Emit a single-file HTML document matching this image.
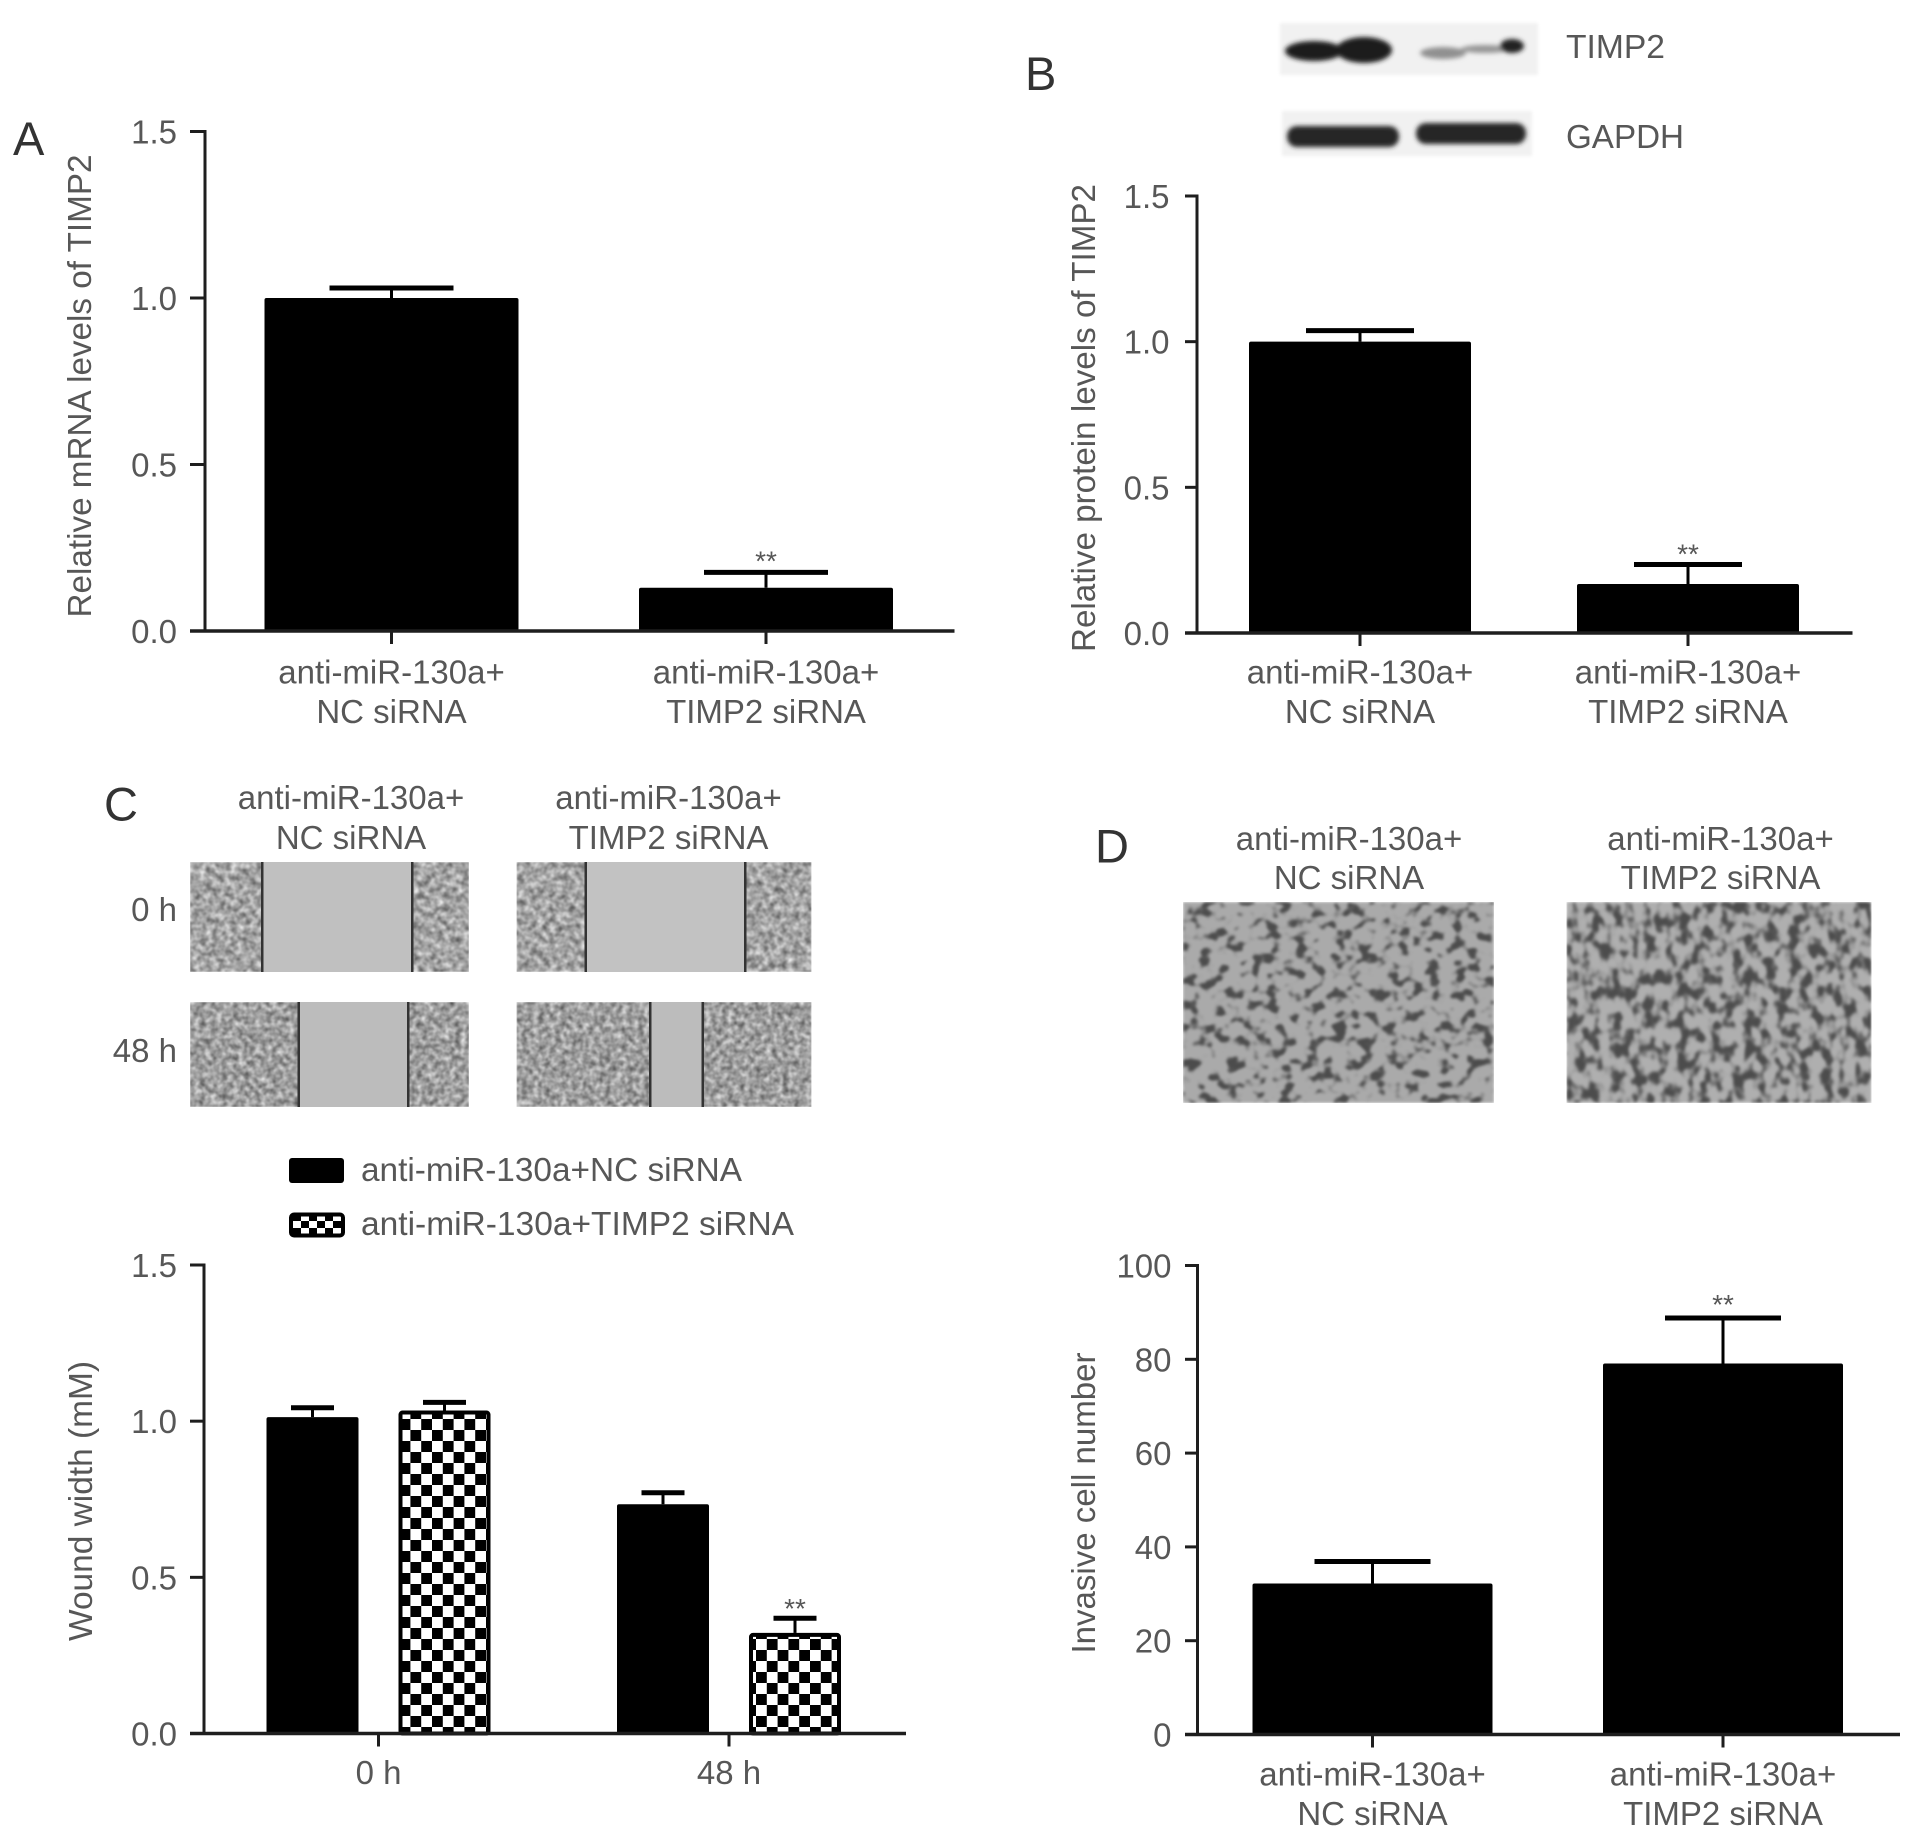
<!DOCTYPE html>
<html lang="en">
<head>
<meta charset="utf-8">
<title>TIMP2 knockdown figure</title>
<style>
html,body{margin:0;padding:0;background:#fff;}
svg{display:block;}
text{font-family:"Liberation Sans",sans-serif;fill:#575757;}
.lab{font-size:33px;}
.letter{font-size:47px;fill:#333;}
</style>
</head>
<body>
<svg id="figure" xmlns="http://www.w3.org/2000/svg" width="1913" height="1838" viewBox="0 0 1913 1838">
  <defs>
    <pattern id="checker" patternUnits="userSpaceOnUse" width="21.6" height="22">
      <rect width="21.6" height="22" fill="#fff"/>
      <rect width="10.8" height="11" fill="#000"/>
      <rect x="10.8" y="11" width="10.8" height="11" fill="#000"/>
    </pattern>
    <pattern id="checker-small" patternUnits="userSpaceOnUse" width="16" height="14" x="293" y="1214">
      <rect width="16" height="14" fill="#fff"/>
      <rect width="8" height="7" fill="#000"/>
      <rect x="8" y="7" width="8" height="7" fill="#000"/>
    </pattern>
    <filter id="soft" x="-20%" y="-40%" width="140%" height="180%"><feGaussianBlur stdDeviation="2.4"/></filter>
    <filter id="soft-box" x="-5%" y="-10%" width="110%" height="120%"><feGaussianBlur stdDeviation="1.5"/></filter>
    <filter id="cells" x="0" y="0" width="100%" height="100%" color-interpolation-filters="sRGB">
      <feTurbulence type="fractalNoise" baseFrequency="0.16" numOctaves="2" seed="7"/>
      <feColorMatrix values="0.8 0 0 0 0.24  0.8 0 0 0 0.24  0.8 0 0 0 0.24  0 0 0 0 1"/>
      <feGaussianBlur stdDeviation="0.9"/>
    </filter>
    <filter id="cells-dense" x="0" y="0" width="100%" height="100%" color-interpolation-filters="sRGB">
      <feTurbulence type="fractalNoise" baseFrequency="0.18" numOctaves="2" seed="19"/>
      <feColorMatrix values="0.8 0 0 0 0.22  0.8 0 0 0 0.22  0.8 0 0 0 0.22  0 0 0 0 1"/>
      <feGaussianBlur stdDeviation="0.9"/>
    </filter>
    <filter id="invasion-sparse" x="0" y="0" width="100%" height="100%" color-interpolation-filters="sRGB">
      <feTurbulence type="fractalNoise" baseFrequency="0.075 0.085" numOctaves="2" seed="11"/>
      <feColorMatrix values="2.5 0 0 0 -0.75  2.5 0 0 0 -0.75  2.5 0 0 0 -0.75  0 0 0 0 1"/>
      <feComponentTransfer>
        <feFuncR type="table" tableValues="0.3 0.33 0.52 0.64 0.67 0.67 0.67 0.67"/>
        <feFuncG type="table" tableValues="0.3 0.33 0.52 0.64 0.67 0.67 0.67 0.67"/>
        <feFuncB type="table" tableValues="0.3 0.33 0.52 0.64 0.67 0.67 0.67 0.67"/>
      </feComponentTransfer>
      <feGaussianBlur stdDeviation="1.4"/>
    </filter>
    <filter id="invasion-dense" x="0" y="0" width="100%" height="100%" color-interpolation-filters="sRGB">
      <feTurbulence type="fractalNoise" baseFrequency="0.09 0.07" numOctaves="2" seed="23"/>
      <feColorMatrix values="2.5 0 0 0 -0.75  2.5 0 0 0 -0.75  2.5 0 0 0 -0.75  0 0 0 0 1"/>
      <feComponentTransfer>
        <feFuncR type="table" tableValues="0.3 0.34 0.46 0.6 0.67 0.69 0.69"/>
        <feFuncG type="table" tableValues="0.3 0.34 0.46 0.6 0.67 0.69 0.69"/>
        <feFuncB type="table" tableValues="0.3 0.34 0.46 0.6 0.67 0.69 0.69"/>
      </feComponentTransfer>
      <feGaussianBlur stdDeviation="1.4"/>
    </filter>
  </defs>

  <!-- panel letters -->
  <text class="letter" x="13" y="155">A</text>
  <text class="letter" x="1025" y="90">B</text>
  <text class="letter" x="104" y="820.5">C</text>
  <text class="letter" x="1095" y="862.5">D</text>

  <!-- western blot -->
  <g>
    <rect x="1280" y="23" width="258" height="52" fill="#f1f1f1" filter="url(#soft-box)"/>
    <rect x="1282" y="111" width="250" height="45" fill="#f1f1f1" filter="url(#soft-box)"/>
    <g filter="url(#soft)" fill="#1c1c1c">
      <ellipse cx="1314" cy="51" rx="29" ry="10"/>
      <ellipse cx="1364" cy="50" rx="28" ry="13"/>
    </g>
    <g filter="url(#soft)">
      <ellipse cx="1443" cy="53" rx="23" ry="6" fill="#909090"/>
      <ellipse cx="1485" cy="49" rx="24" ry="4" fill="#959595"/>
      <ellipse cx="1512" cy="46" rx="12" ry="7" fill="#222"/>
    </g>
    <g filter="url(#soft)" fill="#262626">
      <rect x="1287" y="126" width="112" height="21" rx="10"/>
    </g>
    <g filter="url(#soft)" fill="#262626">
      <rect x="1416" y="123" width="110" height="21" rx="10"/>
    </g>
    <text class="lab" x="1566" y="58" textLength="99" lengthAdjust="spacingAndGlyphs">TIMP2</text>
    <text class="lab" x="1566" y="148" textLength="118" lengthAdjust="spacingAndGlyphs">GAPDH</text>
  </g>

  <!-- panel C headers and micrographs -->
  <g>
    <text class="lab" text-anchor="middle" x="351" y="809">anti-miR-130a+</text>
    <text class="lab" text-anchor="middle" x="351" y="849">NC siRNA</text>
    <text class="lab" text-anchor="middle" x="668.5" y="809">anti-miR-130a+</text>
    <text class="lab" text-anchor="middle" x="668.5" y="849">TIMP2 siRNA</text>
    <text class="lab" text-anchor="end" x="177" y="921">0 h</text>
    <text class="lab" text-anchor="end" x="177" y="1062">48 h</text>

    <g>
      <rect x="190" y="862" width="279" height="110" filter="url(#cells)"/>
      <rect x="263" y="862" width="149" height="110" fill="#c0c0c0"/>
      <rect x="261" y="862" width="2.5" height="110" fill="#333"/>
      <rect x="411" y="862" width="2.5" height="110" fill="#333"/>
    </g>
    <g>
      <rect x="516.5" y="862" width="295" height="110" filter="url(#cells)"/>
      <rect x="586.5" y="862" width="158" height="110" fill="#c2c2c2"/>
      <rect x="584.5" y="862" width="2.5" height="110" fill="#333"/>
      <rect x="744" y="862" width="2.5" height="110" fill="#333"/>
    </g>
    <g>
      <rect x="190" y="1002" width="279" height="105" filter="url(#cells-dense)"/>
      <rect x="299" y="1002" width="109" height="105" fill="#bcbcbc"/>
      <rect x="297.5" y="1002" width="2.5" height="105" fill="#333"/>
      <rect x="407" y="1002" width="2.5" height="105" fill="#333"/>
    </g>
    <g>
      <rect x="516.5" y="1002" width="295" height="105" filter="url(#cells-dense)"/>
      <rect x="650.5" y="1002" width="52" height="105" fill="#bcbcbc"/>
      <rect x="649" y="1002" width="2.5" height="105" fill="#333"/>
      <rect x="701.5" y="1002" width="2.5" height="105" fill="#333"/>
    </g>
  </g>

  <!-- panel C legend -->
  <g>
    <g>
      <rect x="289" y="1158" width="55" height="25" rx="3" fill="#000"/>
      <text class="lab" x="361" y="1181" textLength="381" lengthAdjust="spacingAndGlyphs">anti-miR-130a+NC siRNA</text>
    </g>
    <g>
      <rect x="291" y="1214.5" width="52" height="21" rx="3" fill="url(#checker-small)" stroke="#000" stroke-width="4"/>
      <text class="lab" x="361" y="1235" textLength="433" lengthAdjust="spacingAndGlyphs">anti-miR-130a+TIMP2 siRNA</text>
    </g>
  </g>

  <!-- panel D headers and micrographs -->
  <g>
    <text class="lab" text-anchor="middle" x="1349" y="850">anti-miR-130a+</text>
    <text class="lab" text-anchor="middle" x="1349" y="889">NC siRNA</text>
    <text class="lab" text-anchor="middle" x="1720.5" y="850">anti-miR-130a+</text>
    <text class="lab" text-anchor="middle" x="1720.5" y="889">TIMP2 siRNA</text>
    <rect x="1183" y="902" width="311" height="201" filter="url(#invasion-sparse)"/>
    <rect x="1566.5" y="902" width="305" height="201" filter="url(#invasion-dense)"/>
  </g>

  <g id="charts"></g>
</svg>

<script>
// Panel A values
const aCategories = [['anti-miR-130a+', 'NC siRNA'], ['anti-miR-130a+', 'TIMP2 siRNA']];
const aValues = [1.0, 0.13];
const aErrorTops = [1.03, 0.176];
const aTicks = [0, 0.5, 1.0, 1.5];
const aTickLabels = ['0.0', '0.5', '1.0', '1.5'];
const aStars = [false, true];

// Panel B values
const bCategories = [['anti-miR-130a+', 'NC siRNA'], ['anti-miR-130a+', 'TIMP2 siRNA']];
const bValues = [1.0, 0.168];
const bErrorTops = [1.038, 0.235];
const bTicks = [0, 0.5, 1.0, 1.5];
const bTickLabels = ['0.0', '0.5', '1.0', '1.5'];
const bStars = [false, true];

// Panel C values
const cCategories = [['0 h'], ['48 h']];
const cNcValues = [1.013, 0.734];
const cNcErrorTops = [1.043, 0.771];
const cTimp2Values = [1.034, 0.322];
const cTimp2ErrorTops = [1.06, 0.369];
const cTicks = [0, 0.5, 1.0, 1.5];
const cTickLabels = ['0.0', '0.5', '1.0', '1.5'];
const cNcStars = [false, false];
const cTimp2Stars = [false, true];

// Panel D values
const dCategories = [['anti-miR-130a+', 'NC siRNA'], ['anti-miR-130a+', 'TIMP2 siRNA']];
const dValues = [32.2, 79.1];
const dErrorTops = [36.9, 88.8];
const dTicks = [0, 20, 40, 60, 80, 100];
const dTickLabels = ['0', '20', '40', '60', '80', '100'];
const dStars = [false, true];

const SVG_NS = 'http://www.w3.org/2000/svg';
const root = document.getElementById('charts');

function make(parent, tag, attrs, content) {
  const el = document.createElementNS(SVG_NS, tag);
  for (const k in attrs) el.setAttribute(k, attrs[k]);
  if (content !== undefined) el.textContent = content;
  parent.appendChild(el);
  return el;
}

function drawChart(o) {
  const g = make(root, 'g', {});
  
  
  const yScale = v => o.y0 - v * (o.y0 - o.yTop) / o.yMax;
  const xCenter = i => o.x0 + o.step * i;

  // bars, errors, stars
  o.series.forEach((s) => {
    s.values.forEach((v, i) => {
      const cx = xCenter(i) + s.offset;
      const top = yScale(v);
      const capY = yScale(s.errorTops[i]);

      const errLine = make(g, 'line', {x1: cx, x2: cx, y1: top, y2: capY, stroke: '#000', 'stroke-width': 3});
      
      

      const cap = make(g, 'line', {x1: cx - o.capW / 2, x2: cx + o.capW / 2, y1: capY, y2: capY, stroke: '#000', 'stroke-width': 5});
      
      

      const inset = s.outlined ? 2 : 0;
      const bar = make(g, 'rect', {
        x: cx - o.barW / 2 + inset,
        y: top + inset,
        width: o.barW - inset * 2,
        height: Math.max(0, o.y0 - top - inset),
        rx: 2,
        fill: s.fill,
        stroke: s.outlined ? '#000' : 'none',
        'stroke-width': s.outlined ? 4 : 0
      });
      
      

      if (s.stars[i]) {
        const star = make(g, 'text', {x: cx, y: capY - 1 - o.starGap, 'text-anchor': 'middle', 'font-size': 28}, '**');
        
        
      }
    });
  });

  // y axis
  const yAxis = make(g, 'line', {x1: o.axisX, x2: o.axisX, y1: o.yTop - 1.5, y2: o.y0 + 1.5, stroke: '#1e1e1e', 'stroke-width': 3});
  
  

  // x axis
  const xAxis = make(g, 'line', {x1: o.tickLeft, x2: o.xEnd, y1: o.y0, y2: o.y0, stroke: '#1e1e1e', 'stroke-width': 3.5});
  
  

  // y ticks
  o.ticks.forEach((t, i) => {
    const y = yScale(t);
    const tick = make(g, 'line', {x1: o.tickLeft, x2: o.axisX, y1: y, y2: y, stroke: '#1e1e1e', 'stroke-width': 3});
    
    

    const label = make(g, 'text', {x: o.labelRight, y: y + 12, 'text-anchor': 'end', class: 'lab'}, o.tickLabels[i]);
    
    
  });

  // x ticks and labels
  o.categories.forEach((lines, i) => {
    const x = xCenter(i);
    const tick = make(g, 'line', {x1: x, x2: x, y1: o.y0, y2: o.y0 + 13, stroke: '#1e1e1e', 'stroke-width': 3});
    
    

    lines.forEach((line, li) => {
      const label = make(g, 'text', {x: x, y: o.labelY + li * 39.5, 'text-anchor': 'middle', class: 'lab'}, line);
      
      
    });
  });

  // y axis title
  const title = make(g, 'text', {
    class: 'lab',
    'text-anchor': 'middle',
    transform: 'translate(' + o.titleX + ',' + o.titleY + ') rotate(-90)',
    textLength: o.titleLen,
    lengthAdjust: 'spacingAndGlyphs'
  }, o.title);
  
  
}

drawChart({
  name: 'chart-a-mrna', axisX: 205, tickLeft: 190, xEnd: 954.5, y0: 631, yTop: 131.5, yMax: 1.5,
  x0: 391.5, step: 374.5, barW: 254, capW: 124, starGap: 1, labelRight: 177, labelY: 683.5,
  title: 'Relative mRNA levels of TIMP2', titleX: 91, titleY: 386, titleLen: 463,
  categories: aCategories, ticks: aTicks, tickLabels: aTickLabels,
  series: [{values: aValues, errorTops: aErrorTops, stars: aStars, fill: '#000', outlined: false, offset: 0}]
});

drawChart({
  name: 'chart-b-protein', axisX: 1197, tickLeft: 1185, xEnd: 1852.5, y0: 633, yTop: 196, yMax: 1.5,
  x0: 1360, step: 328, barW: 222, capW: 108, starGap: 0, labelRight: 1169.5, labelY: 683.5,
  title: 'Relative protein levels of TIMP2', titleX: 1095, titleY: 418, titleLen: 468,
  categories: bCategories, ticks: bTicks, tickLabels: bTickLabels,
  series: [{values: bValues, errorTops: bErrorTops, stars: bStars, fill: '#000', outlined: false, offset: 0}]
});

drawChart({
  name: 'chart-c-wound-width', axisX: 204, tickLeft: 190, xEnd: 906, y0: 1733.5, yTop: 1265, yMax: 1.5,
  x0: 378.5, step: 350.5, barW: 92, capW: 43, starGap: -1, labelRight: 177, labelY: 1784,
  title: 'Wound width (mM)', titleX: 92, titleY: 1501, titleLen: 280,
  categories: cCategories, ticks: cTicks, tickLabels: cTickLabels,
  series: [
    {values: cNcValues, errorTops: cNcErrorTops, stars: cNcStars, fill: '#000', outlined: false, offset: -66},
    {values: cTimp2Values, errorTops: cTimp2ErrorTops, stars: cTimp2Stars, fill: 'url(#checker)', outlined: true, offset: 66}
  ]
});

drawChart({
  name: 'chart-d-invasive-cells', axisX: 1197.5, tickLeft: 1185, xEnd: 1900, y0: 1734.5, yTop: 1265.5, yMax: 100,
  x0: 1372.5, step: 350.5, barW: 240, capW: 116, starGap: 3, labelRight: 1171.5, labelY: 1785.5,
  title: 'Invasive cell number', titleX: 1095, titleY: 1503, titleLen: 301,
  categories: dCategories, ticks: dTicks, tickLabels: dTickLabels,
  series: [{values: dValues, errorTops: dErrorTops, stars: dStars, fill: '#000', outlined: false, offset: 0}]
});
</script>
</body>
</html>
